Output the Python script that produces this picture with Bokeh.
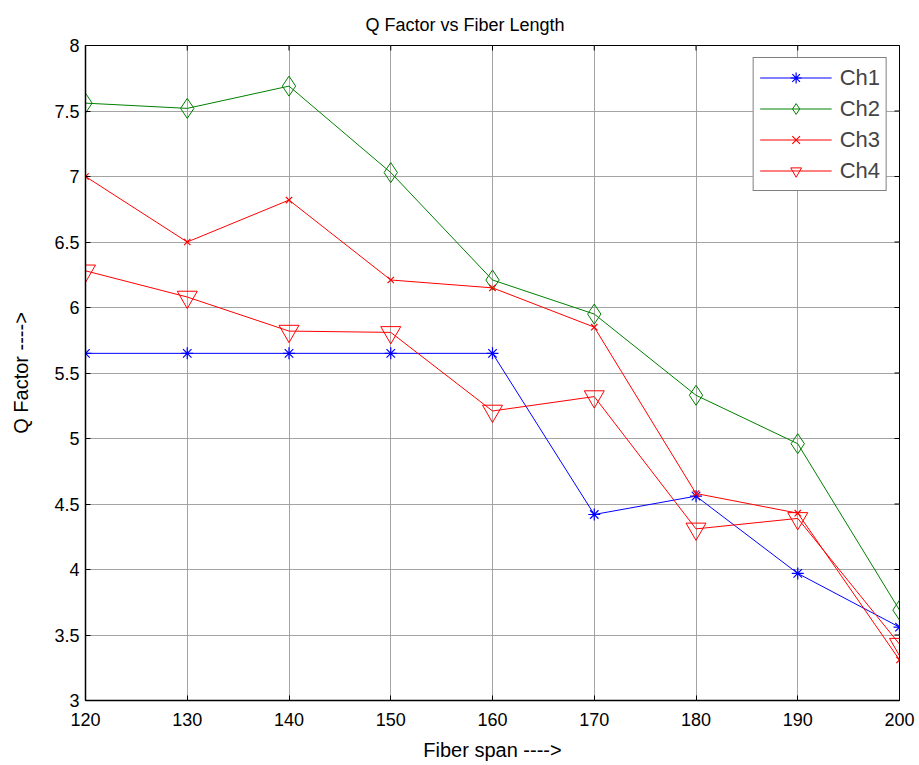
import math
from bokeh.plotting import figure
from bokeh.models import Range1d, FixedTicker, Legend, LegendItem
from bokeh.embed import file_html
from bokeh.resources import INLINE

fiber_span = [120, 130, 140, 150, 160, 170, 180, 190, 200]
ch1 = [5.65, 5.65, 5.65, 5.65, 5.65, 4.42, 4.56, 3.97, 3.56]
ch2 = [7.56, 7.52, 7.69, 7.03, 6.21, 5.95, 5.33, 4.96, 3.69]
ch3 = [7.00, 6.50, 6.82, 6.21, 6.15, 5.85, 4.58, 4.43, 3.31]
ch4 = [6.28, 6.08, 5.82, 5.81, 5.21, 5.32, 4.31, 4.39, 3.43]

x_ticks = [120, 130, 140, 150, 160, 170, 180, 190, 200]
y_ticks = [3, 3.5, 4, 4.5, 5, 5.5, 6, 6.5, 7, 7.5, 8]
y_tick_labels = ["3", "3.5", "4", "4.5", "5", "5.5", "6", "6.5", "7", "7.5", "8"]

FONT = "Liberation Sans"

p = figure(width=919, height=765, output_backend="svg", toolbar_location=None,
           x_range=Range1d(x_ticks[0], x_ticks[-1]), y_range=Range1d(y_ticks[0], y_ticks[-1]),
           min_border_left=85, min_border_right=20, min_border_top=45, min_border_bottom=65,
           title="Q Factor vs Fiber Length")
p.title.align = "left"
p.title.offset = 280
p.title.standoff = 22
p.title.text_font = FONT
p.title.text_font_size = "18px"
p.title.text_font_style = "normal"
p.title.text_color = "black"

p.outline_line_color = "black"
p.outline_line_width = 1
p.background_fill_color = "white"
p.border_fill_color = "white"

for ax in [p.xaxis[0], p.yaxis[0]]:
    ax.major_tick_in = 5
    ax.major_tick_out = 0
    ax.minor_tick_in = 0
    ax.minor_tick_out = 0
    ax.axis_line_color = "black"
    ax.axis_line_width = 1.5
    ax.major_tick_line_color = "black"
    ax.major_label_text_font = FONT
    ax.major_label_text_font_size = "18px"
    ax.major_label_text_color = "black"
    ax.axis_label_text_font = FONT
    ax.axis_label_text_font_size = "20px"
    ax.axis_label_text_font_style = "normal"
    ax.axis_label_text_color = "black"

p.xaxis[0].ticker = FixedTicker(ticks=x_ticks)
p.yaxis[0].ticker = FixedTicker(ticks=y_ticks)
p.yaxis[0].major_label_overrides = {float(t): l for t, l in zip(y_ticks, y_tick_labels)}
p.xaxis[0].axis_label = "Fiber span ---->"
p.yaxis[0].axis_label = "Q Factor ---->"
p.xaxis[0].major_label_standoff = 12
p.xaxis[0].axis_label_standoff = 10
p.yaxis[0].major_label_standoff = 6
p.yaxis[0].axis_label_standoff = 19

p.xgrid.ticker = FixedTicker(ticks=x_ticks)
p.ygrid.ticker = FixedTicker(ticks=y_ticks)
p.grid.grid_line_color = "#9a9a9a"
p.grid.grid_line_width = 1
p.grid.grid_line_alpha = 0.9

# inward tick marks on the right and top edges of the box (half clipped by the frame)
p.scatter([x_ticks[-1]] * len(y_ticks), y_ticks, marker="dash", size=10,
          line_color="black", line_width=1)
p.scatter(x_ticks, [y_ticks[-1]] * len(x_ticks), marker="dash", angle=math.pi / 2, size=10,
          line_color="black", line_width=1)

blue = "#0000ff"
green = "#008000"
red = "#ff0000"

l1 = p.line(fiber_span, ch1, line_color=blue, line_width=1)
m1 = p.scatter(fiber_span, ch1, marker="asterisk", size=12, line_color=blue, line_width=1.2)
l2 = p.line(fiber_span, ch2, line_color=green, line_width=1)
m2 = p.scatter(fiber_span, ch2, marker="diamond", size=20, line_color=green, fill_color=None, line_width=1)
l3 = p.line(fiber_span, ch3, line_color=red, line_width=1)
m3 = p.scatter(fiber_span, ch3, marker="x", size=9, line_color=red, line_width=1.2)
l4 = p.line(fiber_span, ch4, line_color=red, line_width=1)
m4 = p.scatter(fiber_span, ch4, marker="inverted_triangle", size=20, line_color=red, fill_color=None, line_width=1)

legend = Legend(items=[
    LegendItem(label="Ch1", renderers=[l1, m1]),
    LegendItem(label="Ch2", renderers=[l2, m2]),
    LegendItem(label="Ch3", renderers=[l3, m3]),
    LegendItem(label="Ch4", renderers=[l4, m4]),
], location="top_right")
legend.border_line_color = "black"
legend.border_line_width = 1.5
legend.background_fill_color = "white"
legend.background_fill_alpha = 1
legend.label_text_font = FONT
legend.label_text_font_size = "22px"
legend.glyph_width = 72
legend.glyph_height = 27
legend.label_height = 27
legend.label_standoff = 8
legend.spacing = 4
legend.padding = 6
legend.margin = 12
p.add_layout(legend)

open("out.html", "w").write(file_html(p, INLINE))
